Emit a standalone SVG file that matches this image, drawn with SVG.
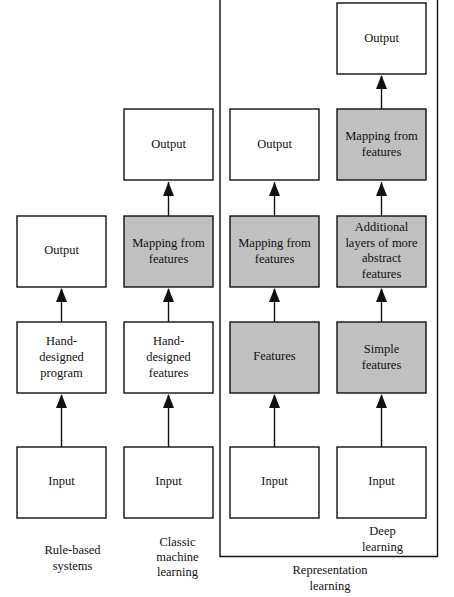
<svg xmlns="http://www.w3.org/2000/svg" width="454" height="597" viewBox="0 0 454 597">
<style>
.b{fill:#fff;stroke:#111;stroke-width:1.4}
.g{fill:#c0c0c0;stroke:#111;stroke-width:1.4}
text{font-family:"Liberation Serif","Times New Roman",serif;font-size:12.5px;fill:#111;text-anchor:middle}
.c line{stroke:#111;stroke-width:1.4}
.c path{fill:#111}
</style>
<rect width="454" height="597" fill="#fff"/>
<g id="frame"><path d="M220,-2 V556.5 H437.5 V-2" fill="none" stroke="#111" stroke-width="1.4"/></g>
<g class="c" id="connectors">
<line x1="61.5" y1="447" x2="61.5" y2="395"/><path d="M56,408 L61.5,394 L67,408 Z"/>
<line x1="61.5" y1="322" x2="61.5" y2="289"/><path d="M56,302 L61.5,288 L67,302 Z"/>
<line x1="168.5" y1="447" x2="168.5" y2="395"/><path d="M163,408 L168.5,394 L174,408 Z"/>
<line x1="168.5" y1="322" x2="168.5" y2="289"/><path d="M163,302 L168.5,288 L174,302 Z"/>
<line x1="168.5" y1="216" x2="168.5" y2="182"/><path d="M163,196 L168.5,182 L174,196 Z"/>
<line x1="274.5" y1="447" x2="274.5" y2="395"/><path d="M269,408 L274.5,394 L280,408 Z"/>
<line x1="274.5" y1="322" x2="274.5" y2="289"/><path d="M269,302 L274.5,288 L280,302 Z"/>
<line x1="274.5" y1="216" x2="274.5" y2="182"/><path d="M269,196 L274.5,182 L280,196 Z"/>
<line x1="381.5" y1="447" x2="381.5" y2="395"/><path d="M376,408 L381.5,394 L387,408 Z"/>
<line x1="381.5" y1="322" x2="381.5" y2="289"/><path d="M376,302 L381.5,288 L387,302 Z"/>
<line x1="381.5" y1="216" x2="381.5" y2="182"/><path d="M376,196 L381.5,182 L387,196 Z"/>
<line x1="381.5" y1="109" x2="381.5" y2="76"/><path d="M376,89 L381.5,75 L387,89 Z"/>
</g>
<g id="rb-input"><rect class="b" x="17" y="447" width="89" height="71"/><text x="61.5" y="485">Input</text></g>
<g id="rb-program"><rect class="b" x="17" y="322" width="89" height="71"/><text x="61.5" y="345">Hand-</text><text x="61.5" y="361">designed</text><text x="61.5" y="377">program</text></g>
<g id="rb-output"><rect class="b" x="17" y="216" width="89" height="71"/><text x="61.5" y="254">Output</text></g>
<g id="cml-input"><rect class="b" x="124" y="447" width="89" height="71"/><text x="168.5" y="485">Input</text></g>
<g id="cml-features"><rect class="b" x="124" y="322" width="89" height="71"/><text x="168.5" y="345">Hand-</text><text x="168.5" y="361">designed</text><text x="168.5" y="377">features</text></g>
<g id="cml-mapping"><rect class="g" x="124" y="216" width="89" height="71"/><text x="168.5" y="246.5">Mapping from</text><text x="168.5" y="262.5">features</text></g>
<g id="cml-output"><rect class="b" x="124" y="109" width="89" height="71"/><text x="168.5" y="147.5">Output</text></g>
<g id="rl-input"><rect class="b" x="230" y="447" width="89" height="71"/><text x="274.5" y="485">Input</text></g>
<g id="rl-features"><rect class="g" x="230" y="322" width="89" height="71"/><text x="274.5" y="360">Features</text></g>
<g id="rl-mapping"><rect class="g" x="230" y="216" width="89" height="71"/><text x="274.5" y="246.5">Mapping from</text><text x="274.5" y="262.5">features</text></g>
<g id="rl-output"><rect class="b" x="230" y="109" width="89" height="71"/><text x="274.5" y="147.5">Output</text></g>
<g id="dl-input"><rect class="b" x="337" y="447" width="89" height="71"/><text x="381.5" y="485">Input</text></g>
<g id="dl-simple"><rect class="g" x="337" y="322" width="89" height="71"/><text x="381.5" y="352.5">Simple</text><text x="381.5" y="368.5">features</text></g>
<g id="dl-layers"><rect class="g" x="337" y="216" width="89" height="71"/><text x="381.5" y="230.5">Additional</text><text x="381.5" y="246.5">layers of more</text><text x="381.5" y="262">abstract</text><text x="381.5" y="277.5">features</text></g>
<g id="dl-mapping"><rect class="g" x="337" y="109" width="89" height="71"/><text x="381.5" y="139.5">Mapping from</text><text x="381.5" y="155.5">features</text></g>
<g id="dl-output"><rect class="b" x="337" y="3" width="89" height="71"/><text x="381.5" y="41.5">Output</text></g>
<g id="labels">
<text x="72.5" y="554">Rule-based</text><text x="72.5" y="570">systems</text>
<text x="177.5" y="546">Classic</text><text x="177.5" y="561">machine</text><text x="177.5" y="576">learning</text>
<text x="382.5" y="535">Deep</text><text x="382.5" y="551">learning</text>
<text x="330" y="574">Representation</text><text x="330" y="590">learning</text>
</g>
</svg>
